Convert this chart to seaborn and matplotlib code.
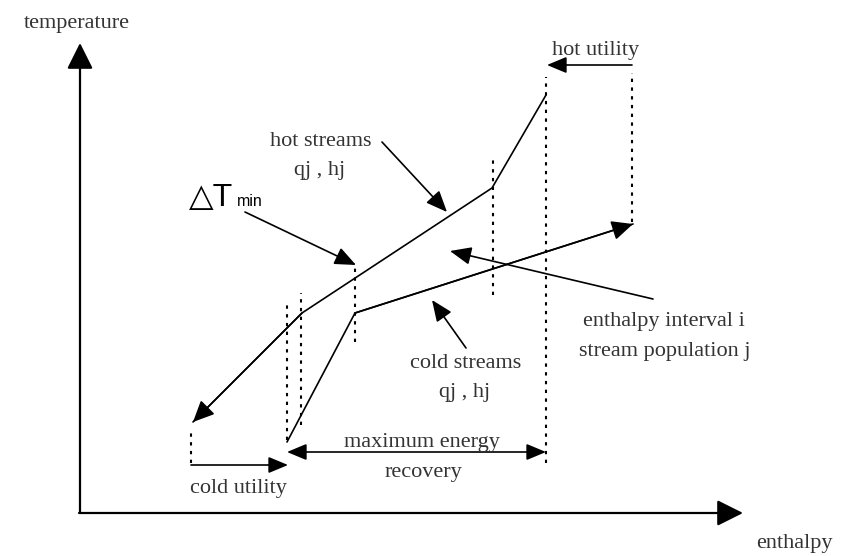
import matplotlib
matplotlib.use("Agg")
import matplotlib.pyplot as plt
import seaborn as sns
import pandas as pd

# ---------------- data (diagram units: enthalpy → right, temperature → up) ----
hot_enthalpy = [193, 302, 492, 546]
hot_temperature = [134, 243, 368, 461]

cold_enthalpy = [287, 355, 633]
cold_temperature = [114, 243, 332]

# dotted vertical interval guides
guide_enthalpy = [191, 287, 301, 355, 493, 546, 632]
guide_low = [93, 116, 131, 214, 261, 93, 334]
guide_high = [123, 256, 263, 288, 396, 479, 483]

axis_labels = ["temperature", "enthalpy"]
label_texts = ["hot utility", "hot streams", "qj , hj", "enthalpy interval i",
               "stream population j", "cold streams", "qj , hj",
               "maximum energy", "recovery", "cold utility"]

sns.set_theme(style="white")
plt.rcParams["font.family"] = ["Liberation Serif", "DejaVu Serif"]

fig = plt.figure(figsize=(8.45, 5.56), dpi=100)
ax = fig.add_axes([0, 0, 1, 1])
ax.set_xlim(0, 845)
ax.set_ylim(0, 556)
ax.axis("off")

hot = pd.DataFrame({"enthalpy": hot_enthalpy, "temperature": hot_temperature})
cold = pd.DataFrame({"enthalpy": cold_enthalpy, "temperature": cold_temperature})
sns.lineplot(data=hot, x="enthalpy", y="temperature", sort=False, ax=ax,
             color="black", lw=1.2)
sns.lineplot(data=cold, x="enthalpy", y="temperature", sort=False, ax=ax,
             color="black", lw=1.2)

for h, lo, hi in zip(guide_enthalpy, guide_low, guide_high):
    ax.plot([h, h], [lo, hi], color="black", lw=1.5, ls=(0, (1.6, 2.6)))


def arrow(x0, y0, x1, y1, hl=12, hw=5, lw=1.2, both=False):
    style = "<|-|>" if both else "-|>"
    ax.annotate("", xy=(x1, y1), xytext=(x0, y0),
                arrowprops=dict(arrowstyle=f"{style},head_length={hl},head_width={hw}",
                                lw=lw, color="black", shrinkA=0, shrinkB=0,
                                mutation_scale=1))


# axes
arrow(80, 43, 80, 513, hl=16, hw=8, lw=1.6)
arrow(79, 43, 743, 43, hl=16, hw=8, lw=1.6)

# curve arrowheads
arrow(hot_enthalpy[1], hot_temperature[1], hot_enthalpy[0], hot_temperature[0], hl=13, hw=6)
arrow(cold_enthalpy[1], cold_temperature[1], cold_enthalpy[2], cold_temperature[2], hl=13, hw=6)

# utility / recovery arrows
arrow(632, 491, 547, 491, hl=12, hw=5)
arrow(191, 91, 288, 91, hl=12, hw=5)
arrow(287, 104, 546, 104, hl=12, hw=5, both=True)

# annotation arrows
arrow(382, 414, 447, 344, hl=13, hw=5.5)
arrow(245, 344, 356, 291, hl=13, hw=5.5)
arrow(653, 257, 450, 305, hl=13, hw=5.5)
arrow(466, 208, 432, 256, hl=13, hw=5.5)

tc = "#333333"
fs = 16
ax.text(77, 528, axis_labels[0], ha="center", va="baseline", fontsize=fs, color=tc)
ax.text(794, 8, axis_labels[1], ha="center", va="baseline", fontsize=fs, color=tc)

label_pos = [(596, 501), (321, 410), (320, 381), (664, 230), (665, 200),
             (466, 188), (465, 159), (422, 109), (423, 79), (238, 63)]
for (x, y), s in zip(label_pos, label_texts):
    ax.text(x, y, s, ha="center", va="baseline", fontsize=fs, color=tc)

ax.text(189, 350, "△T", ha="left", va="baseline", fontsize=23, color="black",
        family=["Liberation Sans", "DejaVu Sans"])
ax.text(237, 350, "min", ha="left", va="baseline", fontsize=11.5, color="black",
        family=["Liberation Sans", "DejaVu Sans"])

fig.savefig("out.png", dpi=100)
